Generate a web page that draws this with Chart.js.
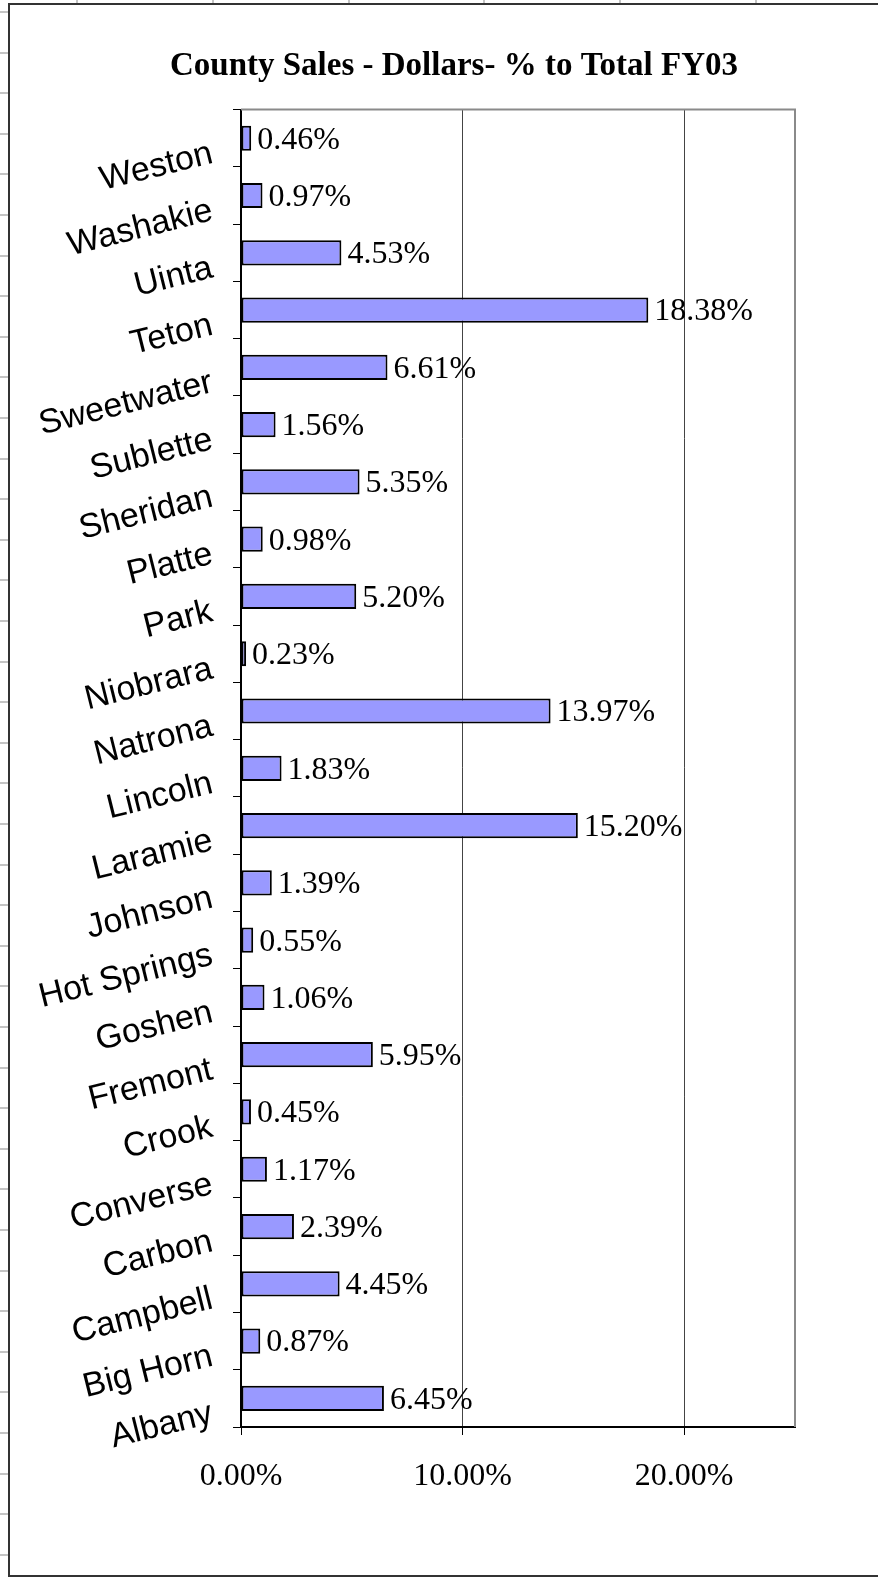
<!DOCTYPE html>
<html>
<head>
<meta charset="utf-8">
<script src="https://cdn.jsdelivr.net/npm/chart.js@4/dist/chart.umd.min.js"></script>
<style>
  html, body { margin: 0; padding: 0; background: #fff; }
  #wrap { position: relative; width: 878px; height: 1577px; overflow: hidden; }
  #chart { position: absolute; left: 0; top: 0; }
  /* spreadsheet cell lines peeking out around the chart object */
  .cells-left {
    position: absolute; left: 0; top: 0; width: 8px; height: 1577px;
    background: repeating-linear-gradient(to bottom, transparent 0 11px, #c4c4c4 11px 13px, transparent 13px 40.6px);
  }
  .cells-top {
    position: absolute; left: 0; top: 0; width: 878px; height: 3px;
    background: repeating-linear-gradient(to right, transparent 0 76px, #c4c4c4 76px 78px, transparent 78px 135.8px);
  }
  .frame {
    position: absolute; left: 8px; top: 3px; width: 900px; height: 1570px;
    border-left: 2px solid #333; border-top: 2px solid #333; border-bottom: 2px solid #333;
    pointer-events: none;
  }
</style>
</head>
<body>
<div id="wrap">
  <div class="cells-left"></div>
  <div class="cells-top"></div>
  <canvas id="chart" width="878" height="1577"></canvas>
  <div class="frame"></div>
</div>
<script>
// ── Data (top to bottom as shown) ─────────────────────────────────────────────
const COUNTIES = [
  'Weston', 'Washakie', 'Uinta', 'Teton', 'Sweetwater', 'Sublette', 'Sheridan',
  'Platte', 'Park', 'Niobrara', 'Natrona', 'Lincoln', 'Laramie', 'Johnson',
  'Hot Springs', 'Goshen', 'Fremont', 'Crook', 'Converse', 'Carbon',
  'Campbell', 'Big Horn', 'Albany'
];
const SHARE_PCT = [
  0.46, 0.97, 4.53, 18.38, 6.61, 1.56, 5.35,
  0.98, 5.20, 0.23, 13.97, 1.83, 15.20, 1.39,
  0.55, 1.06, 5.95, 0.45, 1.17, 2.39,
  4.45, 0.87, 6.45
];
const X_TICKS = [0, 10, 20];
const X_MAX = 25;

const SERIF = "'Liberation Serif', 'Times New Roman', serif";
const SANS  = "'Liberation Sans', Arial, sans-serif";
const fmtPct = v => v.toFixed(2) + '%';

// ── Plugins ──────────────────────────────────────────────────────────────────
// grey frame on the top and right of the plot area (Excel style)
const plotFrame = {
  id: 'plotFrame',
  beforeDatasetsDraw(chart) {
    const { ctx, chartArea: a } = chart;
    ctx.save();
    ctx.strokeStyle = '#8a8a8a';
    ctx.lineWidth = 2;
    ctx.beginPath();
    ctx.moveTo(a.left, a.top);
    ctx.lineTo(a.right, a.top);
    ctx.lineTo(a.right, a.bottom);
    ctx.stroke();
    ctx.restore();
  }
};

// value labels at the end of each bar
const valueLabels = {
  id: 'valueLabels',
  afterDatasetsDraw(chart) {
    const { ctx } = chart;
    const meta = chart.getDatasetMeta(0);
    ctx.save();
    ctx.font = '32px ' + SERIF;
    ctx.fillStyle = '#000';
    ctx.textAlign = 'left';
    ctx.textBaseline = 'middle';
    meta.data.forEach((bar, i) => {
      ctx.fillText(fmtPct(SHARE_PCT[i]), bar.x + 6, bar.y + 2);
    });
    ctx.restore();
  }
};

// ── Chart ─────────────────────────────────────────────────────────────────────
new Chart(document.getElementById('chart'), {
  type: 'bar',
  data: {
    labels: COUNTIES,
    datasets: [{
      data: SHARE_PCT,
      backgroundColor: '#9999ff',
      borderColor: '#000',
      borderWidth: 2,
      borderSkipped: false,
      barPercentage: 0.44,
      categoryPercentage: 1,
    }]
  },
  options: {
    indexAxis: 'y',
    responsive: false,
    animation: false,
    layout: { padding: { top: 47, left: 30, right: 0, bottom: 0 } },
    plugins: {
      legend: { display: false },
      tooltip: { enabled: false },
      title: {
        display: true,
        text: 'County Sales - Dollars- % to Total FY03',
        color: '#000',
        font: { family: SERIF, size: 33, weight: 'bold', lineHeight: 1.2 },
        padding: { top: 0, bottom: 23 },
      },
    },
    scales: {
      x: {
        min: 0, max: X_MAX,
        afterBuildTicks: s => { s.ticks = X_TICKS.map(v => ({ value: v })); },
        afterFit: s => { s.height = 150; },
        grid: { color: '#444', lineWidth: 1, drawTicks: true, tickLength: 8, tickColor: '#000' },
        border: { color: '#000', width: 2 },
        ticks: { callback: v => fmtPct(v), color: '#000', font: { family: SERIF, size: 32 }, padding: 22, maxRotation: 0 },
      },
      y: {
        offset: true,
        afterFit: s => { s.width = 211; },
        grid: { offset: true, drawOnChartArea: false, drawTicks: true, tickLength: 8, color: '#000' },
        border: { color: '#000', width: 2 },
        ticks: {
          autoSkip: false, minRotation: 14, maxRotation: 14,
          color: '#000', font: { family: SANS, size: 34 }, padding: 21, labelOffset: 15,
        },
      },
      yRight: {
        type: 'linear', position: 'right', display: true,
        grid: { display: false }, border: { display: false }, ticks: { display: false },
        afterFit: s => { s.width = 83; },
      },
    },
  },
  plugins: [plotFrame, valueLabels],
});
</script>
</body>
</html>
